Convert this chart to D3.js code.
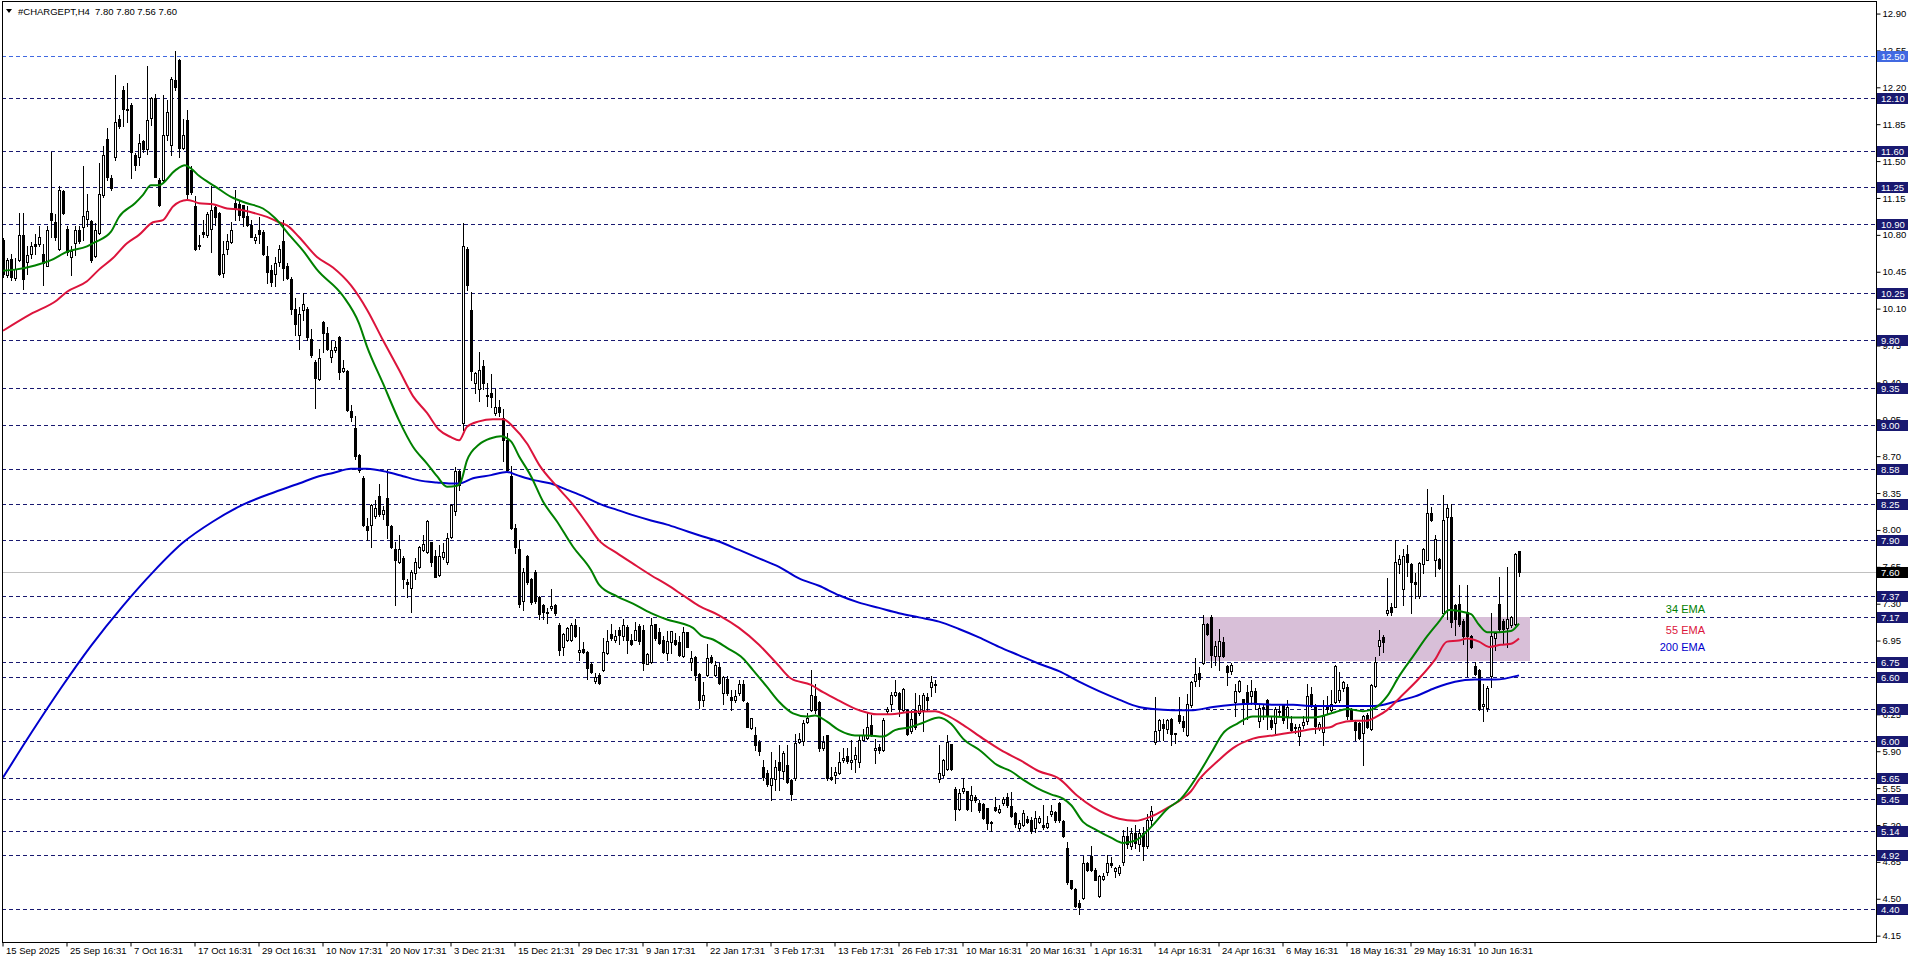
<!DOCTYPE html>
<html>
<head>
<meta charset="utf-8">
<script src="https://cdn.jsdelivr.net/npm/d3@7"></script>
<style>
  body { margin: 0; background: #fff; }
  svg { display: block; font-family: "Liberation Sans", Arial, sans-serif; }
</style>
</head>
<body>
<script>
// --- chart data ---
var symbol = "#CHARGEPT,H4";
var lastBar = "7.80 7.80 7.56 7.60";

var open = [
10.75,10.42,10.57,10.39,10.56,10.80,10.54,10.62,10.71,10.71,
10.62,10.50,11.01,10.92,10.67,11.22,10.86,10.59,10.72,10.85,
10.87,10.95,10.93,10.60,10.82,11.18,11.71,11.34,11.54,11.90,
12.17,11.99,12.03,11.56,11.54,11.69,11.61,11.91,12.10,11.32,
11.32,11.75,11.65,12.27,12.46,11.62,11.89,11.42,11.07,10.70,
10.83,10.80,10.86,11.06,11.01,10.44,10.67,10.73,11.10,11.09,
11.08,10.98,10.89,10.75,10.85,10.83,10.60,10.47,10.43,10.54,
10.74,10.50,10.38,10.10,9.85,10.09,10.10,9.81,9.59,9.43,
9.97,9.87,9.64,9.71,9.83,9.51,9.51,9.13,8.97,8.71,
8.49,8.04,8.05,8.13,8.32,8.15,8.30,8.04,7.82,7.70,
7.73,7.51,7.45,7.59,7.65,7.81,7.79,7.89,7.75,7.57,
7.74,7.70,7.93,8.18,8.56,9.01,10.67,10.09,9.39,9.34,
9.56,9.28,9.30,9.11,9.17,9.06,8.85,8.51,8.02,7.82,
7.33,7.75,7.53,7.60,7.36,7.29,7.21,7.26,7.29,7.10,
6.89,6.96,6.96,7.10,6.84,6.87,6.84,6.73,6.57,6.62,
6.67,6.83,7.01,6.96,7.05,6.99,7.08,6.96,6.96,7.09,
7.05,6.73,6.75,7.11,7.03,6.96,6.83,6.94,6.96,6.94,
6.80,7.03,6.75,6.79,6.63,6.39,6.62,6.79,6.62,6.70,
6.45,6.59,6.41,6.39,6.45,6.54,6.36,6.12,6.05,5.99,
5.75,5.69,5.58,5.64,5.80,5.71,5.77,5.63,5.65,5.99,
6.00,6.18,6.29,6.42,6.37,5.93,6.05,5.66,5.67,5.69,
5.82,5.85,5.80,5.83,5.80,6.01,6.03,6.15,5.91,5.94,
5.91,6.28,6.35,6.43,6.45,6.29,6.29,6.09,6.29,6.26,
6.29,6.41,6.51,6.54,5.64,5.67,5.73,5.97,5.54,5.35,
5.52,5.52,5.44,5.47,5.41,5.40,5.36,5.22,5.37,5.32,
5.41,5.47,5.38,5.31,5.17,5.20,5.26,5.25,5.17,5.23,
5.20,5.18,5.30,5.32,5.41,5.24,4.98,4.68,4.59,4.46,
4.51,4.84,4.91,4.77,4.53,4.69,4.75,4.84,4.76,4.74,
4.85,5.10,5.00,5.12,5.02,5.12,5.00,5.25,5.99,6.10,
6.16,6.11,6.21,6.07,6.24,6.19,6.05,6.34,6.57,6.64,
6.74,7.11,7.17,6.80,6.80,6.94,6.71,6.66,6.37,6.47,
6.40,6.46,6.42,6.47,6.19,6.32,6.39,6.20,6.17,6.27,
6.34,6.23,6.17,6.13,6.04,6.15,6.19,6.44,6.32,6.12,
6.08,6.34,6.29,6.37,6.39,6.50,6.51,6.30,6.18,6.17,
6.07,6.24,6.11,6.52,6.90,6.98,7.21,7.27,7.27,7.68,
7.44,7.77,7.68,7.51,7.37,7.68,7.71,8.16,7.71,7.72,
7.21,8.12,8.12,7.29,7.30,7.14,7.22,6.99,6.71,6.67,
6.33,6.31,6.61,6.97,7.30,7.14,7.07,7.10,7.11,7.80
];
var high = [
10.77,10.58,10.62,10.58,11.01,11.01,10.69,10.73,10.81,10.88,
10.71,10.88,11.59,11.00,11.26,11.23,10.88,10.69,10.88,10.88,
11.45,11.19,10.94,10.91,11.48,11.64,11.81,11.37,12.32,11.94,
12.21,12.24,12.05,11.58,11.76,11.70,12.40,12.11,12.14,11.34,
12.13,12.08,12.30,12.54,12.47,11.90,11.98,11.45,11.17,10.80,
10.94,11.02,11.26,11.07,11.02,10.74,10.81,10.92,11.23,11.13,
11.08,11.07,10.94,10.81,10.97,10.85,10.69,10.51,10.59,10.70,
10.94,10.53,10.40,10.20,10.12,10.25,10.12,9.91,9.61,9.72,
9.98,9.93,9.79,9.79,9.84,9.61,9.52,9.19,9.08,8.72,
8.51,8.11,8.25,8.28,8.44,8.23,8.57,8.05,7.89,7.95,
7.75,7.53,7.62,7.73,7.85,7.95,8.09,7.89,7.81,7.86,
7.88,7.97,8.25,8.60,8.57,10.91,10.68,10.26,9.50,9.69,
9.61,9.39,9.48,9.34,9.23,9.15,8.92,8.61,8.06,7.90,
7.64,7.76,7.54,7.62,7.37,7.30,7.26,7.44,7.30,7.12,
7.02,7.08,7.12,7.15,7.08,6.94,6.85,6.75,6.64,6.64,
6.97,7.05,7.11,7.05,7.08,7.15,7.10,7.01,7.13,7.11,
7.10,6.83,7.16,7.11,7.07,6.99,7.04,7.04,7.02,6.99,
7.08,7.03,6.85,6.80,6.64,6.56,6.92,6.81,6.76,6.74,
6.61,6.61,6.48,6.48,6.58,6.58,6.37,6.22,6.13,6.01,
5.82,5.72,5.89,5.82,5.96,5.90,5.96,5.64,6.06,6.07,
6.20,6.26,6.67,6.54,6.38,6.04,6.05,5.75,5.75,5.89,
5.93,5.93,6.01,5.94,6.04,6.11,6.27,6.24,6.02,5.97,
6.22,6.32,6.46,6.58,6.46,6.50,6.30,6.29,6.45,6.43,
6.45,6.45,6.61,6.58,5.96,5.83,6.05,5.97,5.56,5.54,
5.65,5.52,5.57,5.48,5.44,5.41,5.36,5.24,5.47,5.39,
5.47,5.50,5.51,5.32,5.25,5.34,5.29,5.28,5.33,5.29,
5.39,5.29,5.39,5.33,5.42,5.25,5.04,4.68,4.60,4.49,
4.91,4.85,5.00,4.79,4.73,4.74,4.92,4.90,4.80,4.82,
5.15,5.18,5.17,5.20,5.16,5.18,5.30,5.38,6.41,6.21,
6.21,6.21,6.22,6.07,6.41,6.23,6.44,6.57,6.78,6.70,
7.19,7.12,7.19,6.95,7.06,6.98,6.72,6.74,6.54,6.58,
6.40,6.53,6.58,6.50,6.34,6.35,6.40,6.23,6.32,6.33,
6.35,6.39,6.23,6.16,6.16,6.23,6.54,6.51,6.35,6.18,
6.39,6.42,6.48,6.72,6.65,6.57,6.54,6.31,6.20,6.18,
6.24,6.26,6.54,6.79,7.05,7.00,7.54,7.31,7.90,7.76,
7.82,7.86,7.69,7.59,7.70,7.83,8.39,8.22,7.95,7.73,
8.33,8.25,8.25,7.30,7.48,7.15,7.48,7.00,6.75,6.68,
6.54,6.52,7.21,7.03,7.55,7.15,7.65,7.18,7.78,7.80
];
var low = [
10.40,10.40,10.37,10.37,10.55,10.29,10.43,10.58,10.62,10.69,
10.32,10.50,10.78,10.75,10.66,11.00,10.61,10.42,10.61,10.72,
10.75,10.88,10.54,10.59,10.81,11.16,11.32,11.23,11.51,11.81,
11.83,11.87,11.34,11.42,11.46,11.59,11.57,11.84,11.35,11.07,
11.31,11.70,11.56,12.17,11.54,11.61,11.15,11.19,10.66,10.67,
10.78,10.78,10.64,10.89,10.42,10.40,10.62,10.72,10.94,10.94,
10.88,10.88,10.78,10.72,10.72,10.61,10.34,10.31,10.31,10.50,
10.37,10.38,10.05,9.85,9.72,9.99,9.80,9.64,9.16,9.42,
9.69,9.71,9.59,9.69,9.43,9.50,9.13,9.03,8.67,8.55,
8.04,7.90,7.84,8.11,8.13,8.10,7.92,7.83,7.29,7.69,
7.45,7.36,7.22,7.53,7.64,7.80,7.78,7.66,7.55,7.56,
7.72,7.68,7.92,8.14,8.38,8.95,10.28,9.42,9.30,9.22,
9.34,9.18,9.17,9.09,9.08,8.65,8.55,8.01,7.78,7.27,
7.24,7.49,7.30,7.31,7.15,7.15,7.12,7.24,7.19,6.81,
6.81,6.95,6.95,6.98,6.77,6.83,6.59,6.64,6.55,6.54,
6.66,6.82,6.96,6.94,6.92,6.96,6.83,6.91,6.96,6.92,
6.67,6.73,6.74,6.96,6.92,6.83,6.77,6.83,6.91,6.80,
6.79,6.89,6.67,6.58,6.31,6.33,6.61,6.74,6.61,6.54,
6.35,6.43,6.29,6.37,6.43,6.38,6.13,6.11,5.91,5.86,
5.63,5.57,5.44,5.53,5.53,5.64,5.60,5.44,5.63,5.98,
5.96,6.17,6.28,6.26,5.90,5.91,5.63,5.63,5.60,5.68,
5.80,5.79,5.73,5.70,5.75,6.01,6.02,6.04,5.79,5.88,
5.90,6.26,6.28,6.42,6.23,6.28,6.05,6.07,6.11,6.24,
6.09,6.29,6.42,6.46,5.61,5.66,5.72,5.72,5.25,5.34,
5.50,5.34,5.33,5.42,5.32,5.26,5.16,5.14,5.33,5.31,
5.39,5.37,5.28,5.18,5.15,5.19,5.22,5.12,5.13,5.22,
5.16,5.17,5.29,5.23,5.23,5.09,4.64,4.59,4.42,4.36,
4.50,4.76,4.76,4.68,4.52,4.68,4.73,4.80,4.71,4.73,
4.82,4.98,4.97,4.98,4.95,4.87,4.98,5.20,5.97,6.01,
6.01,6.07,5.96,5.98,6.17,6.09,6.04,6.32,6.52,6.52,
6.73,7.00,6.70,6.72,6.67,6.79,6.53,6.63,6.23,6.46,
6.16,6.21,6.35,6.30,6.13,6.21,6.11,6.11,6.07,6.23,
6.17,6.12,6.09,6.07,5.96,6.12,6.16,6.32,6.07,6.10,
5.96,6.26,6.28,6.36,6.37,6.47,6.21,6.19,6.01,6.02,
5.77,6.12,6.10,6.51,6.81,6.84,7.19,7.19,7.27,7.59,
7.29,7.56,7.21,7.35,7.35,7.59,7.71,8.08,7.56,7.63,
7.18,7.15,7.08,7.00,7.09,6.92,6.61,6.88,6.62,6.29,
6.19,6.28,6.51,6.86,7.03,6.92,6.89,7.08,7.10,7.56
];
var close = [
10.43,10.56,10.40,10.48,10.80,10.38,10.61,10.69,10.69,10.78,
10.53,10.85,10.94,10.78,11.23,11.01,10.64,10.65,10.85,10.74,
10.98,11.03,10.56,10.85,11.19,11.56,11.35,11.24,11.87,11.83,
11.99,11.98,11.59,11.46,11.67,11.61,11.89,12.10,11.35,11.08,
11.75,11.97,12.28,12.20,11.62,11.75,11.19,11.21,10.67,10.69,
10.81,11.00,11.04,10.97,10.43,10.62,10.74,10.85,11.05,10.99,
10.97,10.89,10.78,10.78,10.81,10.62,10.45,10.35,10.53,10.67,
10.49,10.39,10.10,9.95,10.05,10.14,9.83,9.66,9.44,9.63,
9.87,9.72,9.71,9.74,9.50,9.54,9.14,9.07,8.70,8.57,
8.05,8.00,8.24,8.21,8.15,8.19,8.05,7.84,7.71,7.82,
7.53,7.49,7.60,7.70,7.84,7.87,8.08,7.70,7.55,7.75,
7.79,7.92,8.24,8.56,8.43,10.69,10.32,9.51,9.49,9.52,
9.39,9.27,9.26,9.17,9.12,8.85,8.57,8.02,7.84,7.30,
7.60,7.51,7.32,7.33,7.20,7.22,7.22,7.28,7.21,6.86,
7.01,7.07,7.10,6.99,6.86,6.84,6.69,6.65,6.60,6.55,
6.84,6.95,6.97,6.99,7.00,7.10,6.96,6.92,7.05,6.95,
6.74,6.82,7.10,6.97,6.93,6.84,6.95,7.04,6.92,6.81,
7.03,6.89,6.78,6.62,6.39,6.43,6.78,6.75,6.72,6.55,
6.60,6.45,6.39,6.42,6.54,6.39,6.13,6.22,5.96,5.90,
5.66,5.59,5.65,5.75,5.72,5.88,5.61,5.49,5.98,6.02,
6.17,6.22,6.43,6.29,5.93,5.99,5.65,5.64,5.70,5.80,
5.84,5.81,5.82,5.86,6.01,6.05,6.13,6.05,5.93,5.91,
6.20,6.30,6.43,6.46,6.30,6.49,6.06,6.21,6.13,6.34,
6.43,6.39,6.56,6.53,5.69,5.82,5.99,5.73,5.35,5.50,
5.55,5.35,5.48,5.44,5.34,5.27,5.22,5.23,5.34,5.35,
5.45,5.39,5.29,5.21,5.22,5.31,5.23,5.14,5.27,5.27,
5.18,5.22,5.33,5.25,5.25,5.10,4.66,4.60,4.43,4.42,
4.84,4.77,4.77,4.68,4.72,4.72,4.84,4.82,4.79,4.80,
5.10,5.02,5.12,5.03,5.12,5.00,5.25,5.33,6.09,6.20,
6.12,6.20,6.06,6.06,6.19,6.13,6.35,6.56,6.63,6.59,
7.11,7.01,6.81,6.90,6.95,6.80,6.65,6.72,6.47,6.57,
6.35,6.35,6.47,6.35,6.31,6.31,6.23,6.13,6.30,6.28,
6.20,6.32,6.10,6.12,6.13,6.18,6.42,6.34,6.14,6.16,
6.23,6.30,6.35,6.71,6.48,6.56,6.23,6.21,6.10,6.03,
6.23,6.13,6.53,6.75,6.96,6.94,7.24,7.22,7.70,7.72,
7.75,7.70,7.51,7.49,7.69,7.82,8.16,8.09,7.91,7.64,
8.09,8.21,7.13,7.15,7.11,6.99,6.99,6.89,6.63,6.30,
6.35,6.50,6.99,7.02,7.06,7.06,7.15,7.17,7.77,7.60
];

// EMA values: [bar index, price]
var ema34 = [[0,10.46],[3,10.47],[8,10.51],[12,10.56],[16,10.64],[21,10.69],[23,10.73],[27,10.83],[29,10.97],[33,11.10],[35,11.18],[37,11.27],[39,11.27],[43,11.41],[45.5,11.46],[47,11.43],[49,11.36],[53,11.26],[57,11.16],[61,11.10],[65,11.05],[68,10.96],[72,10.78],[75,10.65],[78.5,10.47],[85,10.22],[89,9.96],[91,9.74],[95,9.39],[99,9.04],[102.5,8.79],[106,8.63],[108.5,8.51],[111,8.41],[113.5,8.42],[114.5,8.46],[116,8.66],[119,8.81],[122,8.87],[124.5,8.89],[127,8.84],[129,8.70],[132,8.51],[135,8.27],[138.5,8.08],[142.5,7.84],[147,7.62],[149,7.48],[153.5,7.37],[157.5,7.30],[162,7.21],[166,7.15],[170,7.11],[172.5,7.07],[174.5,7.00],[177.5,6.96],[181,6.88],[185,6.78],[187.5,6.67],[191,6.51],[194,6.37],[197.5,6.26],[201,6.23],[203,6.24],[206,6.18],[209,6.10],[213,6.05],[216,6.05],[220,6.04],[223,6.10],[227,6.13],[230,6.17],[234,6.22],[237,6.16],[240,6.02],[244.5,5.90],[248.5,5.77],[252,5.71],[255,5.63],[258.5,5.55],[262,5.49],[265,5.45],[267,5.39],[270,5.23],[273.5,5.15],[277,5.08],[280,5.03],[283,5.05],[287,5.18],[291,5.35],[294.5,5.45],[298.5,5.66],[302,5.88],[305,6.07],[308.5,6.16],[312.5,6.23],[317.5,6.23],[322.5,6.22],[327.5,6.22],[333,6.27],[336,6.30],[340,6.28],[343,6.31],[346,6.42],[349,6.61],[352.5,6.80],[356,6.99],[359,7.13],[361.5,7.24],[364,7.23],[367,7.20],[369,7.10],[371,7.03],[374,7.03],[377,7.04],[379,7.11]];
var ema55 = [[0,9.89],[7,10.05],[13.5,10.18],[16,10.26],[21,10.36],[24,10.47],[27.5,10.58],[31,10.72],[34,10.80],[37.5,10.92],[40,10.94],[42.5,11.07],[46,11.13],[47.5,11.12],[49,11.10],[52.5,11.09],[56,11.05],[59,11.04],[62.5,11.01],[66,10.97],[69,10.92],[71,10.89],[74,10.78],[78.5,10.59],[82.5,10.49],[87,10.32],[91,10.09],[95,9.80],[99,9.52],[102.5,9.27],[106,9.11],[109,8.95],[112,8.88],[114,8.85],[116,8.98],[119,9.03],[122.5,9.05],[125,9.05],[127.5,8.98],[131,8.82],[134,8.62],[138.5,8.41],[142.5,8.24],[146,8.06],[149,7.90],[153.5,7.78],[157.5,7.68],[162,7.57],[166,7.48],[170,7.38],[174,7.28],[179,7.19],[184,7.07],[189,6.91],[193.5,6.73],[197,6.59],[202,6.53],[205,6.46],[209,6.38],[214,6.29],[218.5,6.25],[222,6.25],[226,6.27],[233,6.28],[236,6.24],[240,6.15],[245,6.02],[249.5,5.91],[254.5,5.81],[259,5.71],[264,5.64],[268.5,5.48],[272.5,5.37],[279,5.26],[283,5.24],[287,5.28],[291,5.36],[294.5,5.44],[297,5.52],[299,5.63],[303.5,5.80],[307.5,5.93],[312.5,6.02],[317.5,6.05],[322.5,6.08],[327.5,6.11],[332,6.13],[333.5,6.16],[338,6.19],[341,6.19],[343.5,6.23],[346,6.29],[349.5,6.42],[354,6.59],[358,6.77],[361,6.94],[364,6.95],[366,6.97],[369,6.94],[371.5,6.89],[374.5,6.91],[377,6.92],[379,6.97]];
var ema200 = [[0,5.65],[7,6.07],[14.5,6.50],[22,6.90],[30,7.28],[37.5,7.60],[45,7.88],[52.5,8.08],[60,8.24],[68,8.36],[74,8.44],[79,8.51],[82.5,8.54],[87,8.58],[91,8.58],[96,8.55],[100,8.51],[104,8.47],[108.5,8.45],[112,8.44],[114,8.44],[117.5,8.49],[122,8.52],[126,8.55],[128.5,8.52],[133,8.47],[137,8.44],[141,8.38],[145,8.32],[149,8.25],[153.5,8.19],[157.5,8.14],[162,8.09],[166,8.05],[170,8.00],[174,7.95],[179,7.89],[184,7.81],[189,7.73],[194,7.65],[199,7.54],[204,7.47],[209,7.38],[214,7.31],[219,7.26],[224,7.21],[229,7.17],[234,7.13],[239,7.06],[244,6.98],[249,6.89],[254,6.81],[259,6.73],[264,6.66],[269,6.56],[274,6.47],[279,6.39],[284,6.32],[287.5,6.30],[292.5,6.29],[297.5,6.29],[302.5,6.32],[307.5,6.34],[312.5,6.35],[317.5,6.34],[322.5,6.34],[327.5,6.33],[333,6.33],[338,6.33],[343,6.33],[348,6.37],[353,6.42],[358,6.50],[363,6.56],[368,6.58],[373,6.58],[379,6.62]];

// horizontal levels drawn on the chart
var levels = [12.50, 12.10, 11.60, 11.25, 10.90, 10.25, 9.80, 9.35, 9.00, 8.58, 8.25, 7.90, 7.37, 7.17, 6.75, 6.60, 6.30, 6.00, 5.65, 5.45, 5.14, 4.92, 4.40];
var highlightLevel = 12.50;
var lastPrice = 7.60;

// zone rectangle: bars and prices
var zoneBars = [299.9, 381.7];
var zonePrices = [7.17, 6.75];

// price axis ticks
var priceTicks = [12.90, 12.55, 12.20, 11.85, 11.50, 11.15, 10.80, 10.45, 10.10, 9.75, 9.40, 9.05, 8.70, 8.35, 8.00, 7.65, 7.30, 6.95, 6.60, 6.25, 5.90, 5.55, 5.20, 4.85, 4.50, 4.15];

// time axis
var timeBars = [0, 16, 32, 48, 64, 80, 96, 112, 128, 144, 160, 176, 192, 208, 224, 240, 256, 272, 288, 304, 320, 336, 352, 368];
var timeLabels = ["15 Sep 2025", "25 Sep 16:31", "7 Oct 16:31", "17 Oct 16:31", "29 Oct 16:31", "10 Nov 17:31", "20 Nov 17:31", "3 Dec 21:31", "15 Dec 21:31", "29 Dec 17:31", "9 Jan 17:31", "22 Jan 17:31", "3 Feb 17:31", "13 Feb 17:31", "26 Feb 17:31", "10 Mar 16:31", "20 Mar 16:31", "1 Apr 16:31", "14 Apr 16:31", "24 Apr 16:31", "6 May 16:31", "18 May 16:31", "29 May 16:31", "10 Jun 16:31"];

var legendNames = ["34 EMA", "55 EMA", "200 EMA"];

// --- drawing ---
var width = 1916, height = 963;
var pLeft = 2, pRight = 1876, pTop = 1, pBottom = 942;
var n = Math.min(open.length, high.length, low.length, close.length);

var svg = d3.select("body").append("svg")
    .attr("width", width)
    .attr("height", height);

var x = d3.scaleLinear().domain([0, 379]).range([3, 1519]);
var y = d3.scaleLinear().domain([12.5, 4.4]).range([55.7, 909.3]);

svg.append("clipPath").attr("id", "plotclip")
    .append("rect")
    .attr("x", pLeft).attr("y", pTop)
    .attr("width", pRight - pLeft).attr("height", pBottom - pTop);

var plot = svg.append("g").attr("clip-path", "url(#plotclip)");

// current price line
plot.append("line")
    .attr("x1", pLeft).attr("x2", pRight)
    .attr("y1", Math.round(y(lastPrice)) + 0.5)
    .attr("y2", Math.round(y(lastPrice)) + 0.5)
    .attr("stroke", "#c0c0c0");

// level lines
plot.selectAll("line.level")
    .data(levels)
    .join("line")
    .attr("class", "level")
    .attr("x1", pLeft).attr("x2", pRight)
    .attr("y1", d => Math.round(y(d)) + 0.5)
    .attr("y2", d => Math.round(y(d)) + 0.5)
    .attr("stroke", d => d === highlightLevel ? "#4169e1" : "#191970")
    .attr("stroke-dasharray", "4,3");

// zone
plot.append("rect")
    .attr("x", Math.round(x(zoneBars[0])))
    .attr("y", Math.round(y(zonePrices[0])))
    .attr("width", Math.round(x(zoneBars[1]) - x(zoneBars[0])))
    .attr("height", Math.round(y(zonePrices[1]) - y(zonePrices[0])))
    .attr("fill", "#d8bfd8");

// candles
var bars = d3.range(n);
var candles = plot.append("g").attr("shape-rendering", "crispEdges");

candles.selectAll("line.wick")
    .data(bars)
    .join("line")
    .attr("class", "wick")
    .attr("x1", i => Math.round(x(i)) + 0.5)
    .attr("x2", i => Math.round(x(i)) + 0.5)
    .attr("y1", i => Math.round(y(high[i])))
    .attr("y2", i => Math.round(y(low[i])) + 1)
    .attr("stroke", "#000");

candles.selectAll("rect.body")
    .data(bars)
    .join("rect")
    .attr("class", "body")
    .attr("x", i => Math.round(x(i)) - 0.5)
    .attr("y", i => Math.round(y(Math.max(open[i], close[i]))) + 0.5)
    .attr("width", 2)
    .attr("height", i => Math.max(0, Math.round(y(Math.min(open[i], close[i]))) - Math.round(y(Math.max(open[i], close[i])))))
    .attr("fill", i => close[i] >= open[i] ? "#fff" : "#000")
    .attr("stroke", "#000");

// EMA lines
var line = d3.line()
    .x(d => x(d[0]))
    .y(d => y(d[1]))
    .curve(d3.curveMonotoneX);

var emaSets = [[ema200, "#0000cd"], [ema55, "#dc143c"], [ema34, "#008000"]];
emaSets.forEach(function (s) {
    plot.append("path")
        .attr("d", line(s[0]))
        .attr("fill", "none")
        .attr("stroke", s[1])
        .attr("stroke-width", 2)
        .attr("stroke-linejoin", "round");
});

// legend
var legendColors = ["#008000", "#dc143c", "#0000cd"];
var legendY = [609, 630, 647];
svg.selectAll("text.legend")
    .data(legendNames)
    .join("text")
    .attr("class", "legend")
    .attr("x", 1705)
    .attr("y", (d, i) => legendY[i])
    .attr("dy", "0.35em")
    .attr("text-anchor", "end")
    .attr("font-size", 11)
    .attr("fill", (d, i) => legendColors[i])
    .text(d => d);

// frame
svg.append("rect")
    .attr("x", pLeft + 0.5).attr("y", pTop + 0.5)
    .attr("width", pRight - pLeft).attr("height", pBottom - pTop)
    .attr("fill", "none")
    .attr("stroke", "#000");

// price axis
var yAxis = d3.axisRight(y)
    .tickValues(priceTicks)
    .tickFormat(d3.format(".2f"))
    .tickSize(4)
    .tickPadding(2);

var ya = svg.append("g")
    .attr("transform", "translate(" + (pRight + 0.5) + ",0)")
    .call(yAxis);
ya.select(".domain").remove();
ya.selectAll("text").attr("font-size", 9.5).attr("font-family", "Liberation Sans, Arial, sans-serif").attr("fill", "#000");
ya.selectAll("line").attr("stroke", "#000");

// price boxes
var boxes = levels.map(d => ({ v: d, bg: d === highlightLevel ? "#4169e1" : "#191970" }));
boxes.push({ v: lastPrice, bg: "#000" });

var bg = svg.selectAll("g.pbox")
    .data(boxes)
    .join("g")
    .attr("class", "pbox")
    .attr("transform", d => "translate(" + (pRight + 1) + "," + Math.round(y(d.v)) + ")");
bg.append("rect")
    .attr("x", 0).attr("y", -5)
    .attr("width", 31).attr("height", 11)
    .attr("fill", d => d.bg);
bg.append("text")
    .attr("x", 4).attr("y", 0.5)
    .attr("dy", "0.35em")
    .attr("font-size", 9.5)
    .attr("fill", "#fff")
    .text(d => d3.format(".2f")(d.v));

// time axis
var xAxis = d3.axisBottom(x)
    .tickValues(timeBars)
    .tickFormat((d, i) => timeLabels[i])
    .tickSize(4)
    .tickPadding(1);

var xa = svg.append("g")
    .attr("transform", "translate(-0.5," + (pBottom + 0.5) + ")")
    .call(xAxis);
xa.select(".domain").remove();
xa.selectAll("line").attr("stroke", "#000");
xa.selectAll("text")
    .attr("text-anchor", "start")
    .attr("x", 3)
    .attr("font-size", 9.5)
    .attr("font-family", "Liberation Sans, Arial, sans-serif")
    .attr("fill", "#000");

// title
svg.append("path")
    .attr("d", "M6,9 L12,9 L9,13 Z")
    .attr("fill", "#000");
svg.append("text")
    .attr("x", 18).attr("y", 14.5)
    .attr("font-size", 9.5)
    .attr("fill", "#000")
    .style("white-space", "pre")
    .text(symbol + "  " + lastBar);
</script>
</body>
</html>
